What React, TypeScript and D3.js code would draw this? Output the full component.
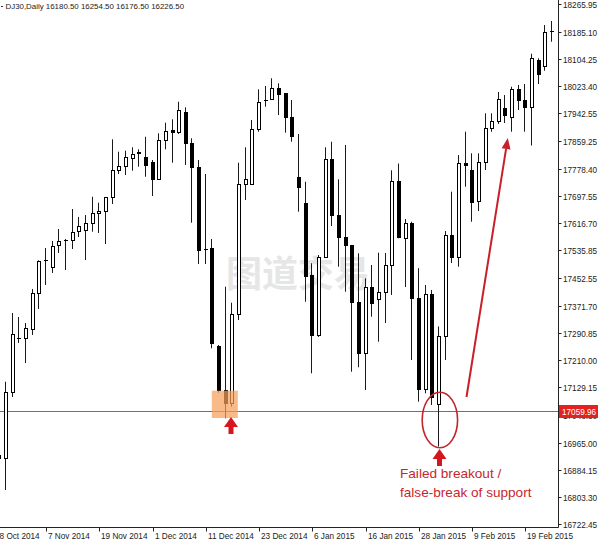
import React from "react";
import * as d3 from "d3";

const W = 600;
const H = 545;

// bar 0 = 28 Oct 2014 (off-screen); data starts at bar 1
const firstBar = 1;

const opens = [
  16926.7, 16918.4, 17116.0, 17275.4, 17275.4, 17302.1, 17409.9, 17504.9, 17487.1, 17550.6,
  17566.3, 17566.3, 17593.9, 17596.0, 17617.7, 17645.6, 17653.3, 17693.1, 17774.1, 17786.0,
  17810.6, 17823.7, 17811.8, 17796.9, 17747.4, 17863.1, 17892.8, 17887.8, 17947.1, 17853.3,
  17782.1, 17538.7, 17541.7, 17251.7, 17121.1, 17081.6, 17346.7, 17732.5, 17732.5, 17894.9,
  17979.8, 17983.9, 18018.4, 18001.8, 17932.3, 17752.4, 17677.0, 17462.4, 17284.3, 17515.0,
  17805.9, 17640.5, 17574.3, 17551.5, 17383.2, 17231.8, 17427.7, 17390.3, 17411.1, 17492.1,
  17742.3, 17570.8, 17617.7, 17393.3, 17122.6, 17406.0, 17080.4, 17279.9, 17582.6, 17516.7,
  17794.0, 17774.1, 17682.1, 17796.9, 17899.6, 17918.6, 17959.6, 17931.4, 18013.6, 17981.9,
  17962.0, 18100.6, 18082.8, 18184.6,
];
const highs = [
  16937.1, 17145.7, 17349.6, 17337.8, 17320.0, 17420.9, 17506.0, 17542.6, 17563.3, 17599.0,
  17569.3, 17658.3, 17634.6, 17640.5, 17694.8, 17677.0, 17694.0, 17865.2, 17828.4, 17831.4,
  17841.5, 17835.5, 17872.9, 17803.8, 17883.0, 17914.5, 17924.6, 17976.8, 17960.2, 17868.2,
  17803.8, 17762.2, 17569.3, 17254.6, 17427.7, 17380.2, 17795.8, 17841.5, 17922.5, 18013.6,
  18023.4, 18046.3, 18031.4, 18001.8, 17981.9, 17880.9, 17739.4, 17497.2, 17521.8, 17841.5,
  17858.1, 17746.5, 17848.3, 17551.5, 17526.8, 17452.6, 17492.1, 17528.6, 17527.7, 17773.2,
  17793.4, 17628.6, 17620.6, 17482.6, 17432.7, 17417.9, 17309.6, 17593.0, 17709.7, 17818.6,
  17887.8, 17823.7, 17823.7, 17942.4, 17942.4, 18005.6, 17996.7, 18021.3, 18026.4, 18029.4,
  18119.3, 18105.6, 18204.5, 18216.4,
];
const lows = [
  16913.3, 16824.3, 17100.3, 17260.6, 17201.2, 17284.3, 17361.5, 17432.7, 17468.4, 17527.7,
  17477.3, 17539.6, 17575.2, 17507.0, 17591.0, 17587.1, 17554.4, 17673.2, 17762.2, 17759.2,
  17772.0, 17783.9, 17754.2, 17696.9, 17746.5, 17835.5, 17795.8, 17880.9, 17788.9, 17617.7,
  17495.1, 17495.1, 17244.9, 17113.1, 17037.1, 17071.5, 17328.9, 17685.0, 17732.5, 17887.8,
  17962.0, 17981.9, 17937.3, 17884.8, 17858.1, 17650.3, 17383.2, 17170.7, 17278.4, 17512.9,
  17607.9, 17487.1, 17412.9, 17175.4, 17188.5, 17121.1, 17338.7, 17264.5, 17320.0, 17403.1,
  17571.4, 17426.8, 17210.1, 17086.4, 17111.3, 17076.6, 16953.4, 17210.1, 17498.0, 17487.1,
  17724.5, 17620.6, 17652.4, 17774.1, 17887.8, 17910.6, 17913.6, 17887.8, 17952.2, 17887.8,
  17846.8, 18029.4, 18068.8, 18154.9,
];
const closes = [
  16919.2, 17116.0, 17287.3, 17276.9, 17305.1, 17409.9, 17504.9, 17506.4, 17549.4, 17564.2,
  17567.8, 17591.0, 17607.9, 17616.8, 17646.5, 17653.3, 17693.1, 17774.1, 17786.0, 17811.8,
  17822.5, 17828.4, 17788.9, 17747.4, 17863.1, 17890.7, 17886.0, 17952.2, 17855.1, 17782.1,
  17536.6, 17537.2, 17259.7, 17121.1, 17081.6, 17346.7, 17732.5, 17746.5, 17894.9, 17976.8,
  17981.3, 18016.6, 17998.8, 17932.3, 17875.0, 17724.5, 17459.5, 17284.3, 17516.7, 17805.9,
  17640.5, 17576.1, 17551.5, 17383.2, 17231.8, 17425.9, 17380.2, 17411.1, 17492.1, 17742.3,
  17576.7, 17617.7, 17393.3, 17122.6, 17406.0, 17101.2, 17279.9, 17582.6, 17516.7, 17794.0,
  17789.0, 17680.0, 17796.9, 17899.6, 17918.6, 17983.9, 17937.3, 18013.6, 17981.9, 17961.1,
  18105.6, 18059.9, 18184.6, 18186.1,
];

const yTickLabels = [
  "18265.95", "18185.10", "18104.25", "18023.40", "17942.55", "17859.25", "17778.40",
  "17697.55", "17616.70", "17535.85", "17452.55", "17371.70", "17290.85", "17210.00",
  "17129.15", "17048.30", "16965.00", "16884.15", "16803.30", "16722.45",
];

const xTickLabels = [
  "28 Oct 2014", "7 Nov 2014", "19 Nov 2014", "1 Dec 2014", "11 Dec 2014", "23 Dec 2014",
  "6 Jan 2015", "16 Jan 2015", "28 Jan 2015", "9 Feb 2015", "19 Feb 2015",
];
const xTickBars = [0, 8, 16, 24, 32, 40, 48, 56, 64, 72, 80];

const supportLevel = 17059.96;
const titleText = "DJ30,Daily  16180.50 16254.50 16176.50 16226.50";
const noteLines = ["Failed breakout /", "false-break of support"];
const watermark = "图道交易";

const PLOT_R = 558.5;
const PLOT_B = 527.5;
const FONT = "'Liberation Sans', Arial, sans-serif";

export default function App() {
  const x = d3.scaleLinear().domain([0, 84]).range([-7.3, 552.1]);
  const y = d3.scaleLinear().domain([16722.45, 18265.95]).range([524.3, 4.3]);

  const candles = opens.map((o, i) => ({
    bar: firstBar + i,
    o,
    h: highs[i],
    l: lows[i],
    c: closes[i],
  }));

  const supY = Math.round(y(supportLevel)) + 0.5;

  // diagonal arrow
  const a0 = { x: 466.5, y: 397 };
  const tip = { x: 507.8, y: 138 };
  const dx = tip.x - a0.x;
  const dy = tip.y - a0.y;
  const len = Math.hypot(dx, dy);
  const ux = dx / len, uy = dy / len;
  const nx = -uy, ny = ux;
  const hl = 11, hw = 4.5;
  const bx = tip.x - hl * ux, by = tip.y - hl * uy;

  const upArrow = (cx: number, tipY: number, key: string) => (
    <g key={key} fill="#d5161f">
      <polygon points={`${cx},${tipY} ${cx - 7},${tipY + 10} ${cx + 7},${tipY + 10}`} />
      <rect x={cx - 2.5} y={tipY + 9} width={5} height={8} />
    </g>
  );

  return (
    <svg
      width={W}
      height={H}
      viewBox={`0 0 ${W} ${H}`}
      style={{ position: "absolute", left: 0, top: 0, background: "#fff" }}
    >
      <defs>
        <clipPath id="plot">
          <rect x={0} y={0} width={PLOT_R} height={PLOT_B} />
        </clipPath>
      </defs>
      <rect x={0} y={0} width={W} height={H} fill="#fff" />

      {/* watermark */}
      <text
        x={226}
        y={287}
        fontSize={36}
        fontWeight={700}
        fontFamily="'Noto Sans CJK SC', sans-serif"
        fill="#e6e6e6"
      >
        {watermark}
      </text>

      {/* support line */}
      <line x1={0} x2={PLOT_R} y1={supY} y2={supY} stroke="#e2403c" strokeWidth={1} />

      {/* candles */}
      <g clipPath="url(#plot)">
        {candles.map((d) => {
          const cx = x(d.bar);
          const L = Math.round(cx) - 2;
          const wx = L + 1.5;
          const top = y(Math.max(d.o, d.c));
          const bot = y(Math.min(d.o, d.c));
          const bull = d.c >= d.o;
          const flat = bot - top < 1.5;
          return (
            <g key={d.bar}>
              <line x1={wx} x2={wx} y1={y(d.h)} y2={y(d.l)} stroke="#1a1a1a" strokeWidth={1} />
              {flat ? (
                <line
                  x1={L}
                  x2={L + 4}
                  y1={Math.round(top) + 0.5}
                  y2={Math.round(top) + 0.5}
                  stroke="#000"
                  strokeWidth={1}
                />
              ) : (
                <rect
                  x={L + 0.5}
                  y={Math.round(top) + 0.5}
                  width={3}
                  height={Math.max(1, Math.round(bot) - Math.round(top))}
                  fill={bull ? "#fff" : "#000"}
                  stroke="#000"
                  strokeWidth={1}
                />
              )}
            </g>
          );
        })}
      </g>

      {/* orange highlight box */}
      <rect
        x={x(32.9)}
        y={y(17119)}
        width={x(36.8) - x(32.9)}
        height={y(17038) - y(17119)}
        fill="#f5a05c"
        opacity={0.72}
      />

      {/* ellipse around false break */}
      <ellipse cx={x(67) + 1} cy={420} rx={17.7} ry={27.7} fill="none" stroke="#c4242c" strokeWidth={1.6} />

      {/* arrows */}
      {upArrow(Math.round(x(35.8)), 417, "a1")}
      {upArrow(Math.round(x(67)) + 0.5, 449, "a2")}
      <line x1={a0.x} y1={a0.y} x2={bx} y2={by} stroke="#c8202a" strokeWidth={2} />
      <polygon
        points={`${tip.x},${tip.y} ${bx + hw * nx},${by + hw * ny} ${bx - hw * nx},${by - hw * ny}`}
        fill="#c8202a"
      />

      {/* annotation text */}
      {noteLines.map((t, i) => (
        <text
          key={t}
          x={400}
          y={478 + i * 18.5}
          fontSize={13.6}
          fontFamily={FONT}
          fill="#c8262d"
        >
          {t}
        </text>
      ))}

      {/* axes */}
      <line x1={PLOT_R} x2={PLOT_R} y1={0} y2={PLOT_B} stroke="#222" strokeWidth={1} />
      <line x1={0} x2={PLOT_R} y1={PLOT_B} y2={PLOT_B} stroke="#222" strokeWidth={1} />

      {yTickLabels.map((lab) => {
        const yy = Math.round(y(+lab)) + 0.5;
        return (
          <g key={lab}>
            <line x1={PLOT_R} x2={PLOT_R + 3} y1={yy} y2={yy} stroke="#222" />
            <text x={563} y={yy + 3} fontSize={8.2} fontFamily={FONT} fill="#222">
              {lab}
            </text>
          </g>
        );
      })}

      {xTickLabels.map((lab, i) => {
        const xx = Math.round(x(xTickBars[i])) + 0.5;
        return (
          <g key={lab}>
            <line x1={xx} x2={xx} y1={PLOT_B} y2={PLOT_B + 4} stroke="#222" />
            <text x={xx + 1.5} y={538.5} fontSize={8.2} fontFamily={FONT} fill="#222">
              {lab}
            </text>
          </g>
        );
      })}

      {/* support price label */}
      <rect x={559} y={supY - 6.5} width={39} height={13} fill="#e3211f" />
      <text x={562} y={supY + 3} fontSize={8.2} fontFamily={FONT} fill="#fff">
        {supportLevel.toFixed(2)}
      </text>

      {/* title */}
      <line x1={1} x2={3} y1={6.5} y2={6.5} stroke="#333" />
      <text x={5.5} y={9} fontSize={7.9} fontFamily={FONT} fill="#222">
        {titleText}
      </text>
    </svg>
  );
}
